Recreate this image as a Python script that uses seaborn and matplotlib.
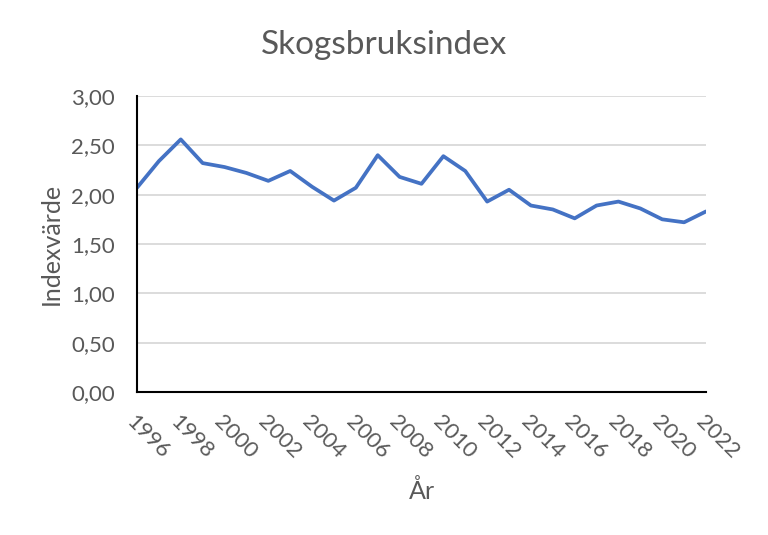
import matplotlib
matplotlib.use("Agg")
import matplotlib.pyplot as plt
import seaborn as sns
import pandas as pd

# Data
years = list(range(1996, 2023))
index_values = [2.07, 2.34, 2.56, 2.32, 2.28, 2.22, 2.14, 2.24, 2.08, 1.94,
                2.07, 2.40, 2.18, 2.11, 2.39, 2.24, 1.93, 2.05, 1.89, 1.85,
                1.76, 1.89, 1.93, 1.86, 1.75, 1.72, 1.83]
label_years = years[::2]

df = pd.DataFrame({"year": years, "value": index_values})

sns.set_theme(style="white")
plt.rcParams["font.family"] = ["Lato", "DejaVu Sans"]

grey = "#595959"

fig = plt.figure(figsize=(7.68, 5.35), dpi=100)
ax = fig.add_axes([137 / 768, 1 - 392 / 535, (706 - 137) / 768, (392 - 96) / 535])

sns.lineplot(data=df, x="year", y="value", ax=ax, color="#4472C4", linewidth=2.7)

ax.set_xlim(1996, 2022)
ax.set_ylim(0, 3)
ax.set_yticks([0, 0.5, 1.0, 1.5, 2.0, 2.5, 3.0])
ax.set_yticklabels([f"{v:.2f}".replace(".", ",") for v in ax.get_yticks()])
ax.yaxis.grid(True, color="#D9D9D9", linewidth=1.3)
ax.set_axisbelow(True)

ax.set_xticks(label_years)
ax.set_xticklabels([str(y) for y in label_years], rotation=-45, ha="left", va="top",
                   rotation_mode="anchor")

ax.tick_params(axis="y", length=0, pad=16, labelsize=16, labelcolor=grey)
ax.tick_params(axis="x", direction="in", length=5, width=1.3, color="black",
               pad=14, labelsize=16, labelcolor=grey)

for side in ["top", "right"]:
    ax.spines[side].set_visible(False)
for side in ["left", "bottom"]:
    ax.spines[side].set_color("black")
    ax.spines[side].set_linewidth(1.5)

ax.set_xlabel("År", fontsize=18, color=grey, labelpad=12)
ax.set_ylabel("Indexvärde", fontsize=18, color=grey, labelpad=6)

fig.text(384 / 768, 1 - 45 / 535, "Skogsbruksindex", ha="center", va="center",
         fontsize=24, color=grey)

fig.savefig("out.png", dpi=100)
